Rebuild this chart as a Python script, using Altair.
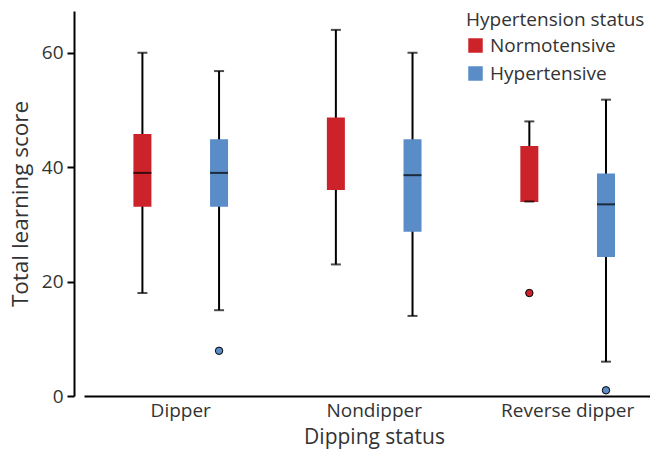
import altair as alt
import pandas as pd

categories = ["Dipper", "Nondipper", "Reverse dipper"]
groups = ["Normotensive", "Hypertensive"]

box_cat = ["Dipper", "Dipper", "Nondipper", "Nondipper", "Reverse dipper", "Reverse dipper"]
box_grp = ["Normotensive", "Hypertensive"] * 3
whisker_low = [18, 15, 23, 14, 34, 6]
q1 = [33.1, 33.1, 36, 28.7, 33.9, 24.3]
median = [39, 39, None, 38.6, None, 33.5]
q3 = [45.8, 44.9, 48.7, 44.9, 43.7, 38.9]
whisker_high = [60, 56.8, 64, 60, 48, 51.8]

out_cat = ["Dipper", "Reverse dipper", "Reverse dipper"]
out_grp = ["Hypertensive", "Normotensive", "Hypertensive"]
out_val = [7.9, 18, 1]

colors = ["#CC2229", "#5A8CC8"]

df = pd.DataFrame({
    "cat": box_cat, "grp": box_grp, "low": whisker_low, "q1": q1,
    "med": median, "q3": q3, "high": whisker_high,
})
dfo = pd.DataFrame({"cat": out_cat, "grp": out_grp, "val": out_val})

FONT = "Open Sans"
TXT = "#333333"

x_enc = alt.X("cat:N", sort=categories, title="Dipping status",
              scale=alt.Scale(range=[10, 590.4], paddingInner=0, paddingOuter=0),
              axis=alt.Axis(labelAngle=0, ticks=False, domainColor="black", domainWidth=2,
                            grid=False, labelFontSize=19, labelColor=TXT, labelFont=FONT,
                            labelPadding=5,
                            titleFontSize=21, titleColor=TXT, titleFont=FONT,
                            titleFontWeight="normal", titlePadding=6,
                            titleX=300, titleAnchor="start", titleAlign="center"))
xo_enc = alt.XOffset("grp:N", sort=groups, scale=alt.Scale(paddingOuter=0.262, paddingInner=0))
y_scale = alt.Scale(domain=[0, 67.3], nice=False, zero=False)
y_axis = alt.Axis(values=[0, 20, 40, 60], tickColor="black", tickWidth=2, tickSize=7,
                  domainColor="black", domainWidth=2, grid=False,
                  labelFontSize=19, labelColor=TXT, labelFont=FONT, labelPadding=4,
                  titleFontSize=22.5, titleColor=TXT, titleFont=FONT, titleFontWeight="normal",
                  titlePadding=9)

base = alt.Chart(df)

whisk = base.mark_rule(color="black", strokeWidth=2).encode(
    x=x_enc, xOffset=xo_enc,
    y=alt.Y("low:Q", scale=y_scale, axis=y_axis, title="Total learning score"),
    y2="high:Q",
)
box = base.mark_bar(size=18).encode(
    x=x_enc, xOffset=xo_enc,
    y=alt.Y("q1:Q", scale=y_scale),
    y2="q3:Q",
    color=alt.Color("grp:N", sort=groups,
                    scale=alt.Scale(domain=groups, range=colors),
                    legend=alt.Legend(title="Hypertension status", orient="none",
                                      legendX=392, legendY=0,
                                      symbolType="square", symbolSize=210, symbolStrokeWidth=0,
                                      titleFontSize=19, labelFontSize=19, titleFont=FONT,
                                      labelFont=FONT, titleColor=TXT, labelColor=TXT,
                                      titleFontWeight="normal", rowPadding=8, titlePadding=6,
                                      labelOffset=5)),
)
cap_low = base.mark_tick(color="black", size=10, thickness=2).encode(
    x=x_enc, xOffset=xo_enc, y=alt.Y("low:Q", scale=y_scale))
cap_high = base.mark_tick(color="black", size=10, thickness=2).encode(
    x=x_enc, xOffset=xo_enc, y=alt.Y("high:Q", scale=y_scale))
med = base.transform_filter("isValid(datum.med)").mark_tick(color="black", size=18, thickness=2).encode(
    x=x_enc, xOffset=xo_enc, y=alt.Y("med:Q", scale=y_scale))
outl = alt.Chart(dfo).mark_point(filled=True, size=55, stroke="black", strokeWidth=1, opacity=1).encode(
    x=x_enc, xOffset=xo_enc, y=alt.Y("val:Q", scale=y_scale),
    fill=alt.Fill("grp:N", scale=alt.Scale(domain=groups, range=colors), legend=None),
)

chart = alt.layer(whisk, box, cap_low, cap_high, med, outl).properties(
    width=546, height=385,
    autosize=alt.AutoSizeParams(type="none"),
    padding={"left": 66, "top": 3, "right": 30, "bottom": 55},
    background="white",
).configure_view(stroke=None)

chart.save("out.html", embed_options={"renderer": "svg", "actions": False})
